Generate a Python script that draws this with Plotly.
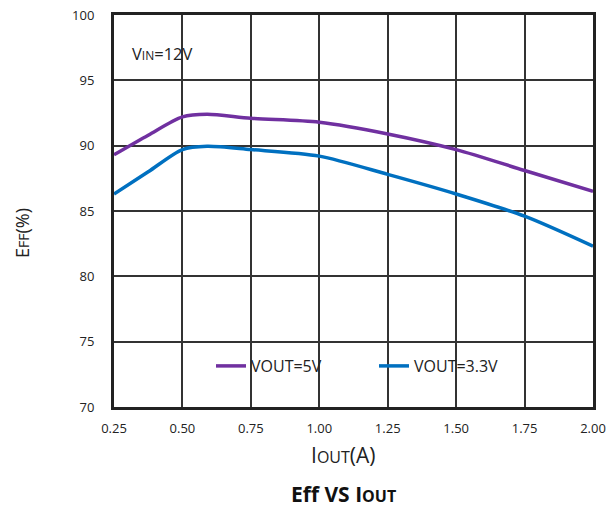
import plotly.graph_objects as go

iout = [0.25, 0.375, 0.5, 0.59, 0.75, 1.0, 1.25, 1.5, 1.75, 2.0]
eff_5v = [89.3, 90.8, 92.2, 92.4, 92.1, 91.8, 90.9, 89.7, 88.1, 86.5]
eff_33v = [86.3, 88.0, 89.7, 89.95, 89.7, 89.2, 87.8, 86.3, 84.6, 82.3]
names = ["VOUT=5V", "VOUT=3.3V"]
colors = ["#7030A0", "#0070C0"]
x_ticks = [0.25, 0.5, 0.75, 1.0, 1.25, 1.5, 1.75, 2.0]
y_ticks = [70, 75, 80, 85, 90, 95, 100]

FONT = "Open Sans, Liberation Sans, sans-serif"
W, H = 608, 509
ML, MR, MT, MB = 114, 15, 15, 102
plot_w = W - ML - MR
plot_h = H - MT - MB

def py(pix):
    return (H - MB - pix) / plot_h

def px(pix):
    return (pix - ML) / plot_w

fig = go.Figure()
for ys, nm, c in zip([eff_5v, eff_33v], names, colors):
    fig.add_trace(go.Scatter(x=iout, y=ys, mode="lines", name=nm,
                             line=dict(color=c, width=3.5, shape="spline", smoothing=0.8)))

axis_common = dict(showline=True, linecolor="#222", linewidth=3, mirror=True,
                   showgrid=True, gridcolor="#333", gridwidth=1.5, zeroline=False,
                   ticks="", tickfont=dict(family=FONT, size=13, color="#222"))

fig.update_xaxes(range=[0.25, 2.0], tickvals=x_ticks, ticklabelstandoff=7,
                 ticktext=[f"{v:.2f}" for v in x_ticks], **axis_common)
fig.update_yaxes(range=[70, 100], tickvals=y_ticks, ticklabelstandoff=14, **axis_common)

fig.update_layout(
    width=W, height=H,
    margin=dict(l=ML, r=MR, t=MT, b=MB, autoexpand=False),
    paper_bgcolor="white", plot_bgcolor="white",
    font=dict(family=FONT, color="#222"),
    showlegend=True,
    legend=dict(orientation="h", x=px(211), xanchor="left", y=py(366), yanchor="middle",
                bgcolor="rgba(0,0,0,0)", font=dict(family=FONT, size=16, color="#222"),
                entrywidth=118, entrywidthmode="pixels", tracegroupgap=0),
    annotations=[
        dict(text="V<span style='font-size:12px'>IN</span>=12V", x=px(130), y=py(53),
             xref="paper", yref="paper", xanchor="left", yanchor="middle",
             showarrow=False, font=dict(family=FONT, size=16.5, color="#222")),
        dict(text="E<span style='font-size:14px'>FF</span>(%)", x=px(22), y=py(233),
             xref="paper", yref="paper", xanchor="center", yanchor="middle",
             textangle=-90, showarrow=False,
             font=dict(family=FONT, size=18, color="#222")),
        dict(text="I<span style='font-size:16px'>OUT</span>(A)", x=px(343), y=py(455),
             xref="paper", yref="paper", xanchor="center", yanchor="middle",
             showarrow=False, font=dict(family=FONT, size=21, color="#222")),
        dict(text="<b>Eff VS I<span style='font-size:16px'>OUT</span></b>", x=px(343), y=py(494),
             xref="paper", yref="paper", xanchor="center", yanchor="middle",
             showarrow=False, font=dict(family=FONT, size=21, color="#111")),
    ],
)

fig.write_html("out.html", config={"displayModeBar": False},
               post_script="document.body.style.margin='0';document.body.style.padding='0';")
